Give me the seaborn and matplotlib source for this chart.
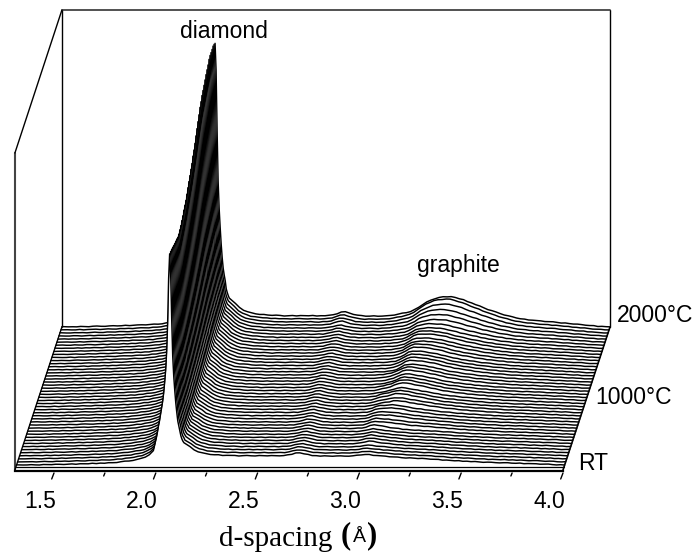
"""Waterfall of d-spacing scans, RT to 2000C"""
import numpy as np
import matplotlib
matplotlib.use("Agg")
import matplotlib.pyplot as plt
from matplotlib.transforms import ScaledTranslation
import seaborn as sns

# sampling of d-spacing, finer around the diamond peak
d_left = np.arange(1.32, 1.99, 0.02)
d_peak = np.arange(1.99, 2.1325, 0.005)
d_right = np.arange(2.16, 4.005, 0.02)
d_grid = np.concatenate([d_left, d_peak, d_right])

# smooth background, left / peak / right part of the grid
bg_left = [0, 0, 0, .1, .2, .2, .3, .4, .5, .5, .6, .7, .8, .9, 1.0, 1.1, 1.2, 1.3, 1.5, 1.6,
           1.8, 1.9, 2.1, 2.3, 2.5, 2.7, 3.0, 3.2, 3.5, 3.8, 4.0, 4.3, 4.6, 4.9]
bg_peak = [5.0, 5.1, 5.2, 5.3, 5.4, 5.5, 5.6, 5.7, 5.8, 5.9, 6.0, 6.1, 6.2, 6.3, 6.4, 6.5, 6.6,
           6.7, 6.8, 6.9, 7.0, 7.1, 7.2, 7.3, 7.4, 7.5, 7.6, 7.7, 7.8]
bg_right = [7.9, 8.0, 8.2, 8.4, 8.5, 8.6, 8.7, 8.8, 8.9, 9.0,
            9.1, 9.2, 9.2, 9.3, 9.3, 9.3, 9.3, 9.3, 9.3, 9.3,
            9.2, 9.2, 9.2, 9.1, 9.1, 9.1, 9.1, 9.1, 9.0, 9.0,
            9.0, 9.0, 9.0, 9.0, 9.0, 9.0, 8.9, 8.9, 8.9, 8.9,
            8.8, 8.8, 8.7, 8.6, 8.5, 8.4, 8.3, 8.2, 8.1, 8.0,
            7.8, 7.6, 7.4, 7.2, 7.0, 6.8, 6.6, 6.4, 6.2, 6.0,
            5.7, 5.4, 5.1, 4.8, 4.5, 4.3, 4.1, 3.9, 3.7, 3.5,
            3.3, 3.1, 2.9, 2.7, 2.5, 2.4, 2.3, 2.2, 2.1, 2.0,
            1.8, 1.7, 1.5, 1.4, 1.2, 1.1, 1.0, .8, .7, .5,
            .3, .1, 0]

# peak shapes, each list starts at the d-spacing named in the place calls below
diamond_shape = [.001, .002, .003, .004, .006, .008, .012, .018, .028, .045,
                 .09, .11, .135, .165, .19, .22, .25, .28, .32, .37, .43, .52, .66, .88, 1.0,
                 .90, .68, .50, .40, .33, .27, .22, .18, .155, .135, .105, .09, .08, .07,
                 .05, .035, .025, .018, .013, .010, .008, .006, .004, .003, .002, .001]
peak_a_shape = [.05, .12, .3, .6, .95, 1.0, .75, .45, .2, .08]
peak_b1_shape = [.05, .15, .4, .75, 1.0, .9, .7, .55, .4, .3, .2, .1, .05]
peak_b2_shape = [.05, .12, .3, .6, .9, 1.0, .95, .85, .75, .65, .55, .45, .35, .25, .15, .08, .03]
peak_c_shape = [.01, .03, .06, .10, .14, .18, .24, .32, .42, .55, .66, .76, .85, .92, .96, .99, 1.0,
                .98, .94, .9, .84, .78, .72, .66, .6, .54, .49, .44, .39, .34, .3, .26, .23, .2,
                .18, .17, .16, .15, .14, .13, .12, .11, .10, .09, .08, .07, .06, .05, .04, .03, .02, .01]

# per scan heights, front (RT) to back (2000C)
diamond_height = [205, 204, 203, 202, 201, 200, 199, 198, 197, 197,
                  198, 199, 201, 203, 205, 207, 209, 212, 215, 218,
                  221, 224, 227, 231, 234, 238, 242, 246, 250, 254,
                  258, 261, 264, 266, 268, 270, 272, 274, 276, 278,
                  279, 279, 279, 279, 278, 276]
peak_a_height = [3, 3, 3, 3, 3, 3, 3, 3, 3, 3, 3, 3, 3, 3, 3, 3, 3, 3, 3, 3, 3, 3, 3, 3, 3,
                 3, 3, 3, 3, 3, 3, 3, 3, 3, 3, 3, 3, 3, 3, 3, 3, 3, 4, 4, 4, 4]
peak_b1_height = [2, 2, 2, 2, 3, 3, 3, 3, 3, 4, 4, 4, 4, 4, 4, 4, 3, 3, 3, 3, 2, 2, 2, 1, 1, 1, 1,
                  0, 0, 0, 0, 0, 0, 0, 0, 0, 0, 0, 0, 0, 0, 0, 0, 0, 0, 0]
peak_b2_height = [0, 0, 0, 0, 0, 0, 0, 0, 0, 0, 1, 1, 2, 2, 3, 3, 4, 4, 5, 5,
                  5, 6, 6, 6, 6, 6, 6, 6, 6, 6, 6, 6, 6, 6, 5, 5, 5, 5, 4, 4,
                  3, 3, 3, 2, 2, 1]
peak_c_height = [0, 0, 0, 0, 0, 0, 0, 0, 0, 0, 1, 1, 1, 1, 1, 1, 2, 2, 2, 2, 2, 3, 3, 3, 3,
                 4, 4, 4, 5, 5, 5, 5, 6, 6, 7, 7, 8, 8, 9, 10, 12, 14, 16, 19, 21, 21]
bg_scale = [1.0, 1.0, 1.0, 1.0, 1.0, 1.0, 1.0, 1.0, 1.0, 1.0, 1.0, 1.0,
            1.02, 1.02, 1.04, 1.04, 1.05, 1.05, 1.06, 1.06,
            1.07, 1.08, 1.08, 1.09, 1.1, 1.1, 1.11, 1.12, 1.12, 1.13,
            1.14, 1.14, 1.15, 1.16, 1.16, 1.17, 1.18, 1.18, 1.19, 1.2,
            1.2, 1.2, 1.2, 1.2, 1.2, 1.2]
# counting noise on the scans
ripple = [0.15, -0.2, 0.05, 0.25, -0.1, -0.25, 0.2, 0.0, -0.15, 0.25, 0.1, -0.2, -0.05, 0.2, -0.25,
          0.15, 0.05, -0.1, 0.25, -0.2, 0.1, -0.15, 0.2, 0.0, -0.25, 0.15, 0.25, -0.05, -0.2, 0.1,
          0.2, -0.15, -0.1, 0.25, -0.2, 0.05, 0.15]

major_ticks = [1.5, 2.0, 2.5, 3.0, 3.5, 4.0]
major_labels = ["1.5", "2.0", "2.5", "3.0", "3.5", "4.0"]
minor_ticks = [1.75, 2.25, 2.75, 3.25, 3.75]

# one y unit is one pixel, one d unit is 203.6 pixels
px_per_d = 203.6
d_min = 1.308
d_max = 4.0
depth_dx = 47 / px_per_d
depth_dy = 143
wall_height = 317
plane_start = 5
plane_step = 3.07


def place(shape, start_d):
    """put a peak shape on d_grid, starting at start_d"""
    out = np.zeros(len(d_grid))
    i = np.argmin(np.abs(d_grid - start_d))
    out[i:i + len(shape)] = shape
    return out


bg = np.array(bg_left + bg_peak + bg_right)
diamond = place(diamond_shape, 1.80)
peak_a = place(peak_a_shape, 2.60)
peak_b1 = place(peak_b1_shape, 2.94)
peak_b2 = place(peak_b2_shape, 3.00)
peak_c = place(peak_c_shape, 2.90)
noise = np.resize(ripple, len(d_grid))

sns.set_theme(style="white")
plt.rcParams["font.family"] = ["Liberation Sans", "DejaVu Sans"]

fig = plt.figure(figsize=(6.93, 5.54), dpi=100)
ax = fig.add_axes([0, 0, 1, 1])
x_left = 1.5 - 54 / px_per_d
ax.set_xlim(x_left, x_left + 693 / px_per_d)
ax.set_ylim(470 - 554, 470)
ax.patch.set_visible(False)

# box behind the scans
x_back = d_min + depth_dx
x_back_r = d_max + depth_dx
ax.plot([d_min, d_min], [0, wall_height], color="#444444", lw=1.5, zorder=1)
ax.plot([x_back, x_back], [depth_dy, depth_dy + wall_height], color="black", lw=1.0, zorder=1)
ax.plot([x_back_r, x_back_r], [depth_dy, depth_dy + wall_height], color="black", lw=1.0, zorder=1)
ax.plot([x_back, x_back_r], [depth_dy + wall_height] * 2, color="#333333", lw=1.2, zorder=1)
ax.plot([d_min, x_back], [wall_height, depth_dy + wall_height], color="black", lw=1.0, zorder=1)
ax.plot([d_min, x_back], [0, depth_dy], color="black", lw=1.0, zorder=1)
ax.plot([d_max, x_back_r], [0, depth_dy], color="black", lw=1.2, zorder=500)

# scans back to front, each one hides what lies behind it
n_scans = len(diamond_height)
for i in range(n_scans - 1, -1, -1):
    plane = plane_start + plane_step * i
    shift = depth_dx * plane / depth_dy
    y = (bg * bg_scale[i] + diamond * diamond_height[i] + peak_a * peak_a_height[i]
         + peak_b1 * peak_b1_height[i] + peak_b2 * peak_b2_height[i] + peak_c * peak_c_height[i]
         + np.roll(noise, i * 11))
    y = np.maximum(y, 0)
    x = d_grid + shift
    x[0] = d_min + shift
    z = 10 + 2 * (n_scans - i)
    ax.fill_between(x, plane, plane + y, color="white", lw=0, zorder=z)
    sns.lineplot(x=x, y=plane + y, color="black", lw=1.05, estimator=None, sort=False,
                 legend=False, ax=ax, zorder=z + 1)

# front double line and axis
ax.plot([d_min + 0.004, d_max + 0.004], [3, 3], color="black", lw=0.9, zorder=400)
sns.despine(ax=ax, left=True)
ax.spines["bottom"].set_position(("data", -0.5))
ax.spines["bottom"].set_bounds(d_min, d_max)
ax.spines["bottom"].set_linewidth(1.6)
ax.spines["bottom"].set_color("black")
ax.set_yticks([])
ax.set_xticks(major_ticks, major_labels)
ax.tick_params(axis="x", length=0, pad=14, labelsize=16.5, labelcolor="black")
offset = ScaledTranslation(-14 / 100, 0, fig.dpi_scale_trans)
for lab in ax.get_xticklabels():
    lab.set_transform(lab.get_transform() + offset)

# slanted ticks follow the depth direction
for t in major_ticks:
    ax.plot([t, t - 2.3 / px_per_d], [-3, -9], color="black", lw=1.0, clip_on=False)
for t in minor_ticks:
    ax.plot([t, t - 1.2 / px_per_d], [-3, -6], color="black", lw=1.0, clip_on=False)

ax.set_xlabel("d-spacing", family="Liberation Serif", fontsize=21, color="black")
ax.xaxis.set_label_coords(275.5 / 693, 1 - 526 / 554)
fig.text(346 / 693, 1 - 536 / 554, "(", family="Liberation Serif", weight="bold", fontsize=22,
         ha="center", va="center", color="black")
fig.text(359.5 / 693, 1 - 538 / 554, "Å", family="Liberation Sans", fontsize=14,
         ha="center", va="center", color="black")
fig.text(372 / 693, 1 - 536 / 554, ")", family="Liberation Serif", weight="bold", fontsize=22,
         ha="center", va="center", color="black")

for label, px, py in [("2000°C", 617, 316), ("1000°C", 595, 397), ("RT", 578, 463)]:
    fig.text(px / 693, 1 - py / 554, label, fontsize=16.5, ha="left", va="center", color="black")
fig.text(224 / 693, 1 - 31 / 554, "diamond", fontsize=16.5, ha="center", va="center", color="black")
fig.text(458 / 693, 1 - 266 / 554, "graphite", fontsize=16.5, ha="center", va="center", color="black")

fig.savefig("out.png", dpi=100)
